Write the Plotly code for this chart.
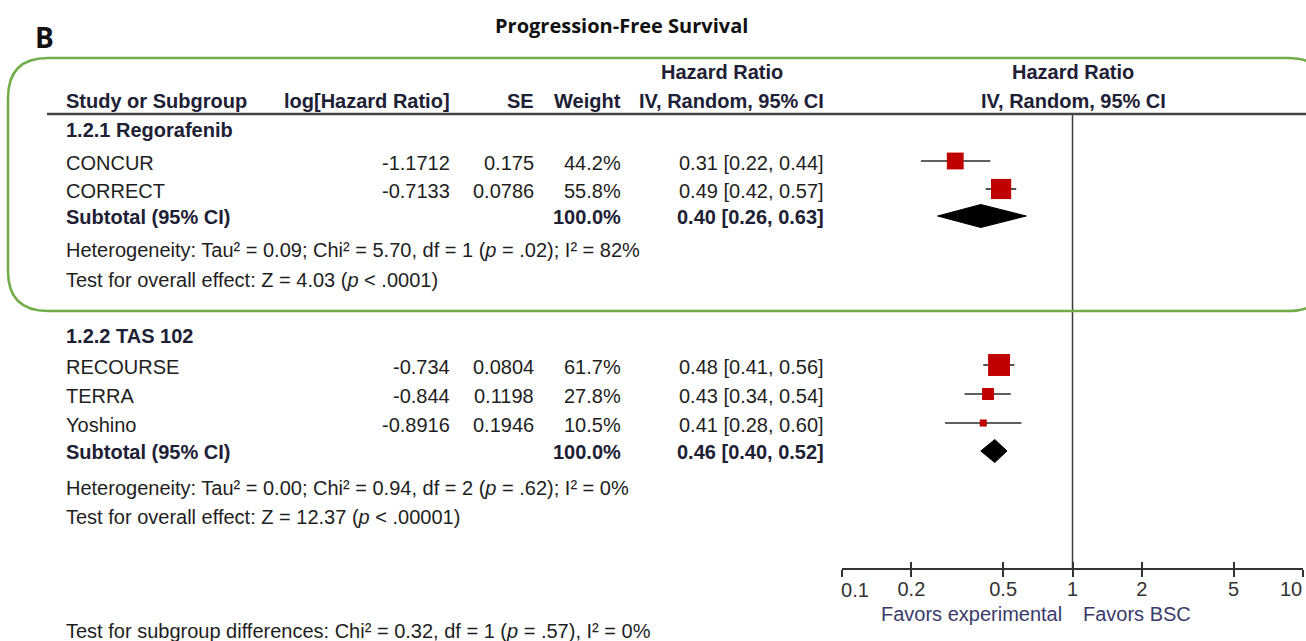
import plotly.graph_objects as go

# ---------------- DATA ----------------
title = "Progression-Free Survival"
panel_label = "B"

subgroups = ["1.2.1 Regorafenib", "1.2.2 TAS 102"]
studies = ["CONCUR", "CORRECT", "RECOURSE", "TERRA", "Yoshino"]
study_group = [0, 0, 1, 1, 1]
log_hr = ["-1.1712", "-0.7133", "-0.734", "-0.844", "-0.8916"]
se = ["0.175", "0.0786", "0.0804", "0.1198", "0.1946"]
weight = [44.2, 55.8, 61.7, 27.8, 10.5]
hr = [0.31, 0.49, 0.48, 0.43, 0.41]
ci_lo = [0.22, 0.42, 0.41, 0.34, 0.28]
ci_hi = [0.44, 0.57, 0.56, 0.54, 0.60]

sub_hr = [0.40, 0.46]
sub_lo = [0.26, 0.40]
sub_hi = [0.63, 0.52]
sub_tau2 = ["0.09", "0.00"]
sub_chi2 = ["5.70", "0.94"]
sub_df = [1, 2]
sub_p_het = [".02", ".62"]
sub_i2 = [82, 0]
sub_z = ["4.03", "12.37"]
sub_p_z = ["< .0001", "< .00001"]

diff_chi2 = "0.32"
diff_df = 1
diff_p = ".57"
diff_i2 = 0

tick_vals = [0.1, 0.2, 0.5, 1, 2, 5, 10]
tick_text = ["0.1", "0.2", "0.5", "1", "2", "5", "10"]
favors_left = "Favors experimental"
favors_right = "Favors BSC"

# ---------------- LAYOUT (pixels) ----------------
W, H = 1306, 641
FONT = "Liberation Sans, Arial, sans-serif"
FS = 20
BODY = "#1e1e1e"
HEAD = "#202035"
FAV = "#3a3a6a"

study_y = [161, 189, 365, 394, 423]
group_head_y = [130, 336]
subtotal_y = [216, 451]
het_y = [250, 488]
test_y = [280, 517]
diff_y = 631
axis_y = 569
header_line_y = 114

col_left = 64
col_loghr = 452
col_se = 536
col_wt = 623
col_ci = 826
forest_x0, forest_x1 = 842, 1303

fig = go.Figure()


def txt(x, y, s, anchor="left", bold=False, color=BODY, size=FS, family=FONT):
    if bold:
        s = "<b>" + s + "</b>"
    fig.add_annotation(x=x / W, y=y, xref="paper", yref="y", text=s,
                       showarrow=False, xanchor=anchor, yanchor="middle",
                       font=dict(family=family, size=size, color=color))


# null line at HR = 1
fig.add_trace(go.Scatter(x=[1, 1], y=[header_line_y, axis_y], mode="lines",
                         line=dict(color="#3a3a3a", width=1.5),
                         hoverinfo="skip", showlegend=False))

# CI whiskers
wx, wy = [], []
for lo, hi, y in zip(ci_lo, ci_hi, study_y):
    wx += [lo, hi, None]
    wy += [y, y, None]
fig.add_trace(go.Scatter(x=wx, y=wy, mode="lines",
                         line=dict(color="#2a2a2a", width=1.6),
                         hoverinfo="skip", showlegend=False))

# study boxes (size scales with weight)
fig.add_trace(go.Scatter(x=hr, y=study_y, mode="markers",
                         marker=dict(symbol="square", color="#c00000", opacity=1,
                                     size=[4 + 0.29 * w for w in weight],
                                     line=dict(width=0)),
                         hoverinfo="skip", showlegend=False))

# subtotal diamonds
for h, lo, hi, y in zip(sub_hr, sub_lo, sub_hi, subtotal_y):
    half = 11.5
    fig.add_trace(go.Scatter(x=[lo, h, hi, h, lo], y=[y, y - half, y, y + half, y],
                             mode="lines", fill="toself", fillcolor="black",
                             line=dict(color="black", width=1),
                             hoverinfo="skip", showlegend=False))

# dummy traces for the overlay axes (inner tick marks, end labels)
for ax in ("x2", "x3"):
    fig.add_trace(go.Scatter(x=[1], y=[0], mode="none", xaxis=ax, yaxis="y",
                             hoverinfo="skip", showlegend=False))

# ---------------- TEXT TABLE ----------------
txt(621, 25, title, anchor="center", bold=True, color="#111", size=20,
    family="Open Sans, Lato, sans-serif")
txt(33, 37, panel_label, anchor="left", bold=True, color="#111", size=28,
    family="Open Sans, Lato, sans-serif")

# headers
txt(722, 72, "Hazard Ratio", anchor="center", bold=True, color=HEAD)
txt(1073, 72, "Hazard Ratio", anchor="center", bold=True, color=HEAD)
txt(col_left, 101, "Study or Subgroup", bold=True, color=HEAD)
txt(col_loghr, 101, "log[Hazard Ratio]", anchor="right", bold=True, color=HEAD)
txt(col_se, 101, "SE", anchor="right", bold=True, color=HEAD)
txt(col_wt, 101, "Weight", anchor="right", bold=True, color=HEAD)
txt(col_ci, 101, "IV, Random, 95% CI", anchor="right", bold=True, color=HEAD)
txt(1073, 101, "IV, Random, 95% CI", anchor="center", bold=True, color=HEAD)

for g, name in enumerate(subgroups):
    txt(col_left, group_head_y[g], name, bold=True, color=HEAD)
    txt(col_left, subtotal_y[g] + 1, "Subtotal (95% CI)", bold=True, color=HEAD)
    txt(col_wt, subtotal_y[g] + 1, "100.0%", anchor="right", bold=True, color=HEAD)
    txt(col_ci, subtotal_y[g] + 1,
        f"{sub_hr[g]:.2f} [{sub_lo[g]:.2f}, {sub_hi[g]:.2f}]",
        anchor="right", bold=True, color=HEAD)
    txt(col_left, het_y[g],
        f"Heterogeneity: Tau² = {sub_tau2[g]}; Chi² = {sub_chi2[g]}, df = {sub_df[g]} "
        f"(<i>p</i> = {sub_p_het[g]}); I² = {sub_i2[g]}%")
    txt(col_left, test_y[g],
        f"Test for overall effect: Z = {sub_z[g]} (<i>p</i> {sub_p_z[g]})")

for i, s in enumerate(studies):
    y = study_y[i] + 2
    txt(col_left, y, s)
    txt(col_loghr, y, log_hr[i], anchor="right")
    txt(col_se, y, se[i], anchor="right")
    txt(col_wt, y, f"{weight[i]:.1f}%", anchor="right")
    txt(col_ci, y, f"{hr[i]:.2f} [{ci_lo[i]:.2f}, {ci_hi[i]:.2f}]", anchor="right")

txt(col_left, diff_y,
    f"Test for subgroup differences: Chi² = {diff_chi2}, df = {diff_df} "
    f"(<i>p</i> = {diff_p}), I² = {diff_i2}%")

txt(1064, 614, favors_left, anchor="right", color=FAV)
txt(1081, 614, favors_right, anchor="left", color=FAV)

# ---------------- SHAPES ----------------
fig.add_shape(type="line", xref="paper", yref="y", x0=47 / W, x1=1.0,
              y0=header_line_y, y1=header_line_y,
              line=dict(color="#444", width=2.5))


def px(x):
    return x / W


def py(y):
    return 1 - y / H


L, T, R, B, r = 8, 58, 1328, 311, 40
path = (f"M {px(L + r)} {py(T)} L {px(R - r)} {py(T)} "
        f"Q {px(R)} {py(T)} {px(R)} {py(T + r)} L {px(R)} {py(B - r)} "
        f"Q {px(R)} {py(B)} {px(R - r)} {py(B)} L {px(L + r)} {py(B)} "
        f"Q {px(L)} {py(B)} {px(L)} {py(B - r)} L {px(L)} {py(T + r)} "
        f"Q {px(L)} {py(T)} {px(L + r)} {py(T)} Z")
fig.add_shape(type="path", xref="paper", yref="paper", path=path,
              line=dict(color="#70ad47", width=2.5), fillcolor="rgba(0,0,0,0)")

# ---------------- AXES ----------------
dom = [forest_x0 / W, forest_x1 / W]
pos = (H - axis_y) / H
tickfont = dict(family=FONT, size=FS, color="#333")
base = dict(type="log", range=[-1, 1], domain=dom, anchor="free", position=pos,
            showgrid=False, zeroline=False, fixedrange=True, tickvals=tick_vals,
            automargin=False, tickfont=tickfont, ticklabeloverflow="allow")

n = len(tick_vals)
mid_labels = [""] + tick_text[1:-1] + [""]
first_label = [tick_text[0]] + [""] * (n - 1)
last_label = [""] * (n - 1) + [tick_text[-1]]

fig.update_layout(
    width=W, height=H, autosize=False,
    margin=dict(l=0, r=0, t=0, b=0, pad=0),
    paper_bgcolor="white", plot_bgcolor="rgba(0,0,0,0)",
    showlegend=False,
    xaxis=dict(**base, ticktext=mid_labels, ticklabelstandoff=-5,
               ticks="outside", ticklen=7, tickwidth=1.5, tickcolor="#333",
               showline=True, linecolor="#333", linewidth=2),
    xaxis2=dict(**base, overlaying="x", ticktext=first_label, ticklabelshift=13,
                ticklabelstandoff=7,
                ticks="inside", ticklen=7, tickwidth=1.5, tickcolor="#333",
                showline=False),
    xaxis3=dict(**base, overlaying="x", ticktext=last_label, ticklabelshift=-12,
                ticklabelstandoff=-5,
                ticks="outside", ticklen=7, tickwidth=0, tickcolor="rgba(0,0,0,0)",
                showline=False),
    yaxis=dict(range=[H, 0], domain=[0, 1], visible=False, fixedrange=True,
               automargin=False),
)

fig.write_html("out.html", config={"displayModeBar": False},
               post_script="document.body.style.margin='0';")
